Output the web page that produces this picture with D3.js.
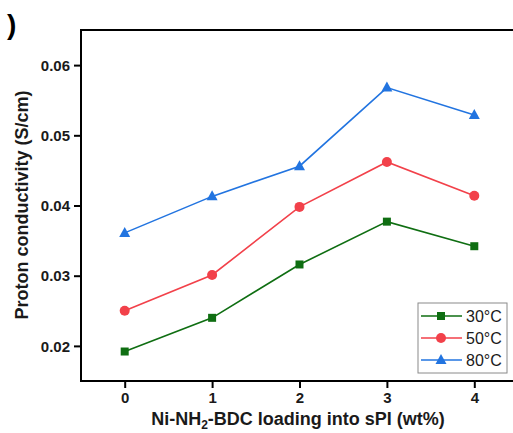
<!DOCTYPE html>
<html>
<head>
<meta charset="utf-8">
<script src="https://cdn.jsdelivr.net/npm/d3@7"></script>
<style>
  html, body { margin: 0; padding: 0; background: #fff; }
  svg { display: block; font-family: "Liberation Sans", Arial, sans-serif; }
</style>
</head>
<body>
<div id="chart"></div>
<script>
// Proton conductivity vs. Ni-NH2-BDC loading
const loadings = [0, 1, 2, 3, 4];
const yTicks = [0.02, 0.03, 0.04, 0.05, 0.06];
const temps = ['30°C', '50°C', '80°C'];
const cond30 = [0.0192, 0.0240, 0.0316, 0.0377, 0.0342];
const cond50 = [0.0250, 0.0301, 0.0398, 0.0462, 0.0414];
const cond80 = [0.0361, 0.0413, 0.0456, 0.0568, 0.0529];

const series = [
  { name: temps[0], values: cond30, color: '#0f6e12', shape: 'square' },
  { name: temps[1], values: cond50, color: '#f2414a', shape: 'circle' },
  { name: temps[2], values: cond80, color: '#2274e0', shape: 'triangle' }
];

const width = 513, height = 433;
const m = { left: 81, top: 30, right: 518, bottom: 381 };

const svg = d3.select('#chart').append('svg')
  .attr('width', width)
  .attr('height', height);

const x = d3.scaleLinear().domain([-0.5, 4.5]).range([m.left, m.right]);
const y = d3.scaleLinear().domain([0.015, 0.065]).range([m.bottom, m.top]);

// axes
const xAxis = svg.append('g')
  .attr('transform', `translate(0,${m.bottom})`)
  .call(d3.axisBottom(x).tickValues(loadings).tickFormat(d3.format('d')).tickSize(7).tickPadding(4));
const yAxis = svg.append('g')
  .attr('transform', `translate(${m.left},0)`)
  .call(d3.axisLeft(y).tickValues(yTicks).tickFormat(d3.format('.2f')).tickSize(7).tickPadding(4));

[xAxis, yAxis].forEach(g => {
  g.select('.domain').remove();
  g.selectAll('line').attr('stroke', '#000').attr('stroke-width', 2);
  g.selectAll('text')
    .attr('fill', '#1a1a1a')
    .attr('font-size', 15)
    .attr('font-weight', 'bold')
    .style('font-family', '"Liberation Sans", Arial, sans-serif');
});
yAxis.selectAll('text').attr('dy', '0.35em');

// frame
svg.append('rect')
  .attr('x', m.left).attr('y', m.top)
  .attr('width', m.right - m.left).attr('height', m.bottom - m.top)
  .attr('fill', 'none').attr('stroke', '#000').attr('stroke-width', 2);

function marker(g, shape, color) {
  if (shape === 'square') {
    g.append('rect').attr('x', -4).attr('y', -4).attr('width', 8).attr('height', 8).attr('fill', color);
  } else if (shape === 'circle') {
    g.append('circle').attr('r', 5).attr('fill', color);
  } else {
    g.append('path').attr('d', 'M0,-6L5.5,4L-5.5,4Z').attr('fill', color);
  }
}

const line = d3.line().x((d, i) => x(loadings[i])).y(d => y(d));

series.forEach(s => {
  svg.append('path')
    .datum(s.values)
    .attr('d', line)
    .attr('fill', 'none')
    .attr('stroke', s.color)
    .attr('stroke-width', 1.6);
  s.values.forEach((v, i) => {
    const g = svg.append('g').attr('transform', `translate(${x(loadings[i])},${y(v)})`);
    marker(g, s.shape, s.color);
  });
});

// legend
const legend = svg.append('g').attr('transform', 'translate(418,303)');
legend.append('rect')
  .attr('width', 89).attr('height', 70)
  .attr('fill', '#fff').attr('stroke', '#8a8a8a').attr('stroke-width', 1);
series.forEach((s, i) => {
  const row = legend.append('g').attr('transform', `translate(0,${13 + i * 22})`);
  row.append('line').attr('x1', 3).attr('x2', 44).attr('stroke', s.color).attr('stroke-width', 1.6);
  marker(row.append('g').attr('transform', 'translate(23,0)'), s.shape, s.color);
  row.append('text')
    .attr('x', 48).attr('dy', '0.36em')
    .attr('font-size', 16)
    .attr('fill', '#1a1a1a')
    .text(s.name);
});

// axis titles
const xt = svg.append('text')
  .attr('x', 298).attr('y', 425)
  .attr('text-anchor', 'middle')
  .attr('font-size', 18).attr('font-weight', 'bold').attr('fill', '#1a1a1a');
xt.append('tspan').text('Ni-NH');
xt.append('tspan').attr('font-size', 12).attr('dy', 4).text('2');
xt.append('tspan').attr('dy', -4).text('-BDC loading into sPI (wt%)');

svg.append('text')
  .attr('transform', 'translate(28,205) rotate(-90)')
  .attr('text-anchor', 'middle')
  .attr('font-size', 18).attr('font-weight', 'bold').attr('fill', '#1a1a1a')
  .text('Proton conductivity (S/cm)');

// panel label remnant
svg.append('text')
  .attr('x', 7).attr('y', 34)
  .attr('font-size', 28).attr('font-weight', 'bold').attr('fill', '#000')
  .text(')');
</script>
</body>
</html>
